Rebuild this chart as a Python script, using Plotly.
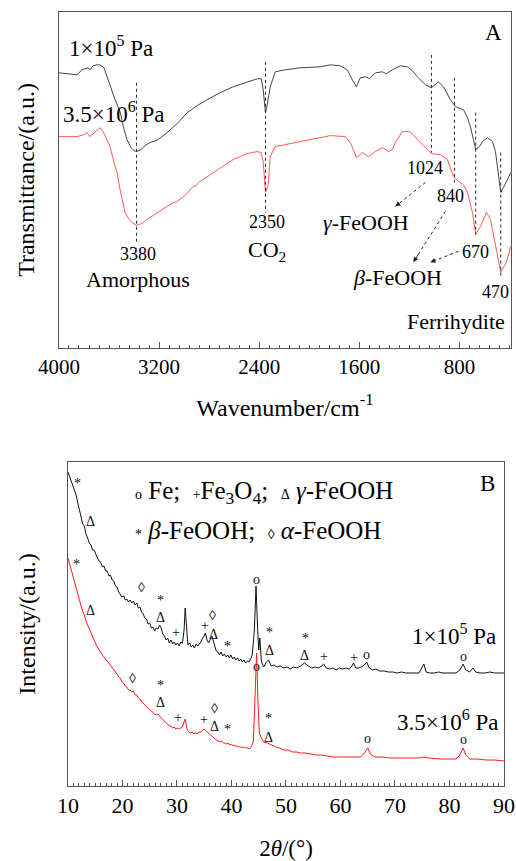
import plotly.graph_objects as go

# ---------------- FTIR data (panel A) ----------------
ftir_wn_black = [4000, 3912, 3856, 3816, 3784, 3768, 3752, 3728, 3696, 3672, 3640, 3616, 3592, 3552, 3512, 3480,
                 3456, 3424, 3400, 3380, 3344, 3312, 3272, 3208, 3136, 3056, 2976, 2896, 2816, 2712, 2608, 2496,
                 2416, 2384, 2368, 2350, 2336, 2312, 2272, 2192, 2072, 1912, 1832, 1752, 1696, 1656, 1624, 1592,
                 1552, 1520, 1472, 1416, 1384, 1336, 1272, 1216, 1176, 1136, 1072, 1024, 968, 928, 872, 832,
                 768, 736, 712, 688, 670, 640, 616, 576, 536, 512, 496, 484, 470, 448, 424, 390]
ftir_t_black = [276, 275, 274, 279, 280, 281, 279, 283, 284, 284, 281, 272, 264, 249, 237, 219,
                209, 201, 198, 197, 199, 203, 206, 209, 216, 225, 236, 243, 249, 256, 262, 267,
                270, 270, 259, 236, 244, 262, 277, 279, 281, 282, 284, 283, 279, 269, 262, 271,
                272, 270, 276, 277, 275, 279, 283, 282, 278, 272, 264, 261, 267, 262, 249, 242,
                239, 231, 222, 209, 199, 202, 207, 211, 207, 197, 182, 168, 156, 161, 167, 176]

ftir_wn_red = [4000, 3856, 3800, 3776, 3752, 3712, 3672, 3648, 3616, 3592, 3560, 3536, 3512, 3496, 3472, 3440,
               3416, 3380, 3336, 3296, 3248, 3192, 3112, 3056, 2992, 2928, 2904, 2872, 2752, 2608, 2496, 2416,
               2384, 2368, 2350, 2328, 2312, 2272, 2072, 1912, 1832, 1712, 1672, 1648, 1624, 1576, 1528, 1472,
               1416, 1368, 1336, 1312, 1256, 1200, 1168, 1136, 1072, 1024, 952, 896, 848, 808, 768, 736,
               696, 670, 632, 584, 552, 512, 484, 470, 452, 424, 390]
ftir_t_red = [212, 212, 214, 216, 212, 217, 221, 217, 209, 202, 186, 176, 159, 149, 136, 129,
              126, 123, 125, 129, 133, 137, 144, 147, 153, 162, 163, 167, 177, 189, 195, 197,
              196, 187, 156, 164, 192, 202, 207, 211, 213, 212, 206, 199, 191, 196, 192, 197,
              201, 197, 199, 206, 217, 217, 214, 209, 201, 195, 194, 189, 172, 167, 164, 156,
              136, 114, 122, 136, 129, 102, 84, 76, 80, 86, 102]

ftir_peaks = [3380, 2350, 1024, 840, 670, 470]
ftir_peak_labels = ["3380", "2350", "1024", "840", "670", "470"]

# ---------------- XRD data (panel B) ----------------
xrd_2theta_black = [10.0, 10.3, 10.6, 10.9, 11.2, 11.5, 11.8, 12.1, 12.4, 12.7, 13.0, 13.3, 13.6, 13.9, 14.2,
                    14.5, 14.8, 15.1, 15.4, 15.7, 16.0, 16.3, 16.6, 16.9, 17.2, 17.5, 17.8, 18.1, 18.4, 18.7,
                    19.0, 19.3, 19.6, 19.9, 20.2, 20.5, 20.8, 21.1, 21.4, 21.7, 22.0, 22.3, 22.6, 22.9, 23.2,
                    23.5, 23.8, 24.1, 24.4, 24.7, 25.0, 25.3, 25.6, 25.9, 26.2, 26.5, 26.8, 27.1, 27.4, 27.7,
                    28.0, 28.3, 28.6, 28.9, 29.2, 29.5, 29.8, 30.1, 30.4, 30.7, 31.0, 31.3, 31.5, 31.7, 32.0,
                    32.3, 32.6, 32.9, 33.2, 33.5, 33.8, 34.1, 34.4, 34.7, 35.0, 35.2, 35.5, 35.8, 36.1, 36.4,
                    36.6, 36.9, 37.2, 37.5, 37.8, 38.1, 38.4, 38.7, 39.0, 39.3, 39.6, 39.9, 40.2, 40.5, 40.8,
                    41.1, 41.4, 41.7, 42.0, 42.3, 42.6, 42.9, 43.2, 43.5, 43.8, 44.2, 44.5, 44.8, 45.0, 45.2,
                    45.5, 45.9, 46.4, 46.8, 47.3, 47.8, 48.4, 49.0, 49.5, 50.2, 50.8, 51.4, 52.0, 52.7, 53.4,
                    54.1, 54.7, 55.3, 56.0, 56.5, 56.9, 57.4, 58.0, 58.6, 59.2, 59.8, 60.4, 61.0, 61.6, 62.0,
                    62.4, 62.8, 63.3, 63.8, 64.4, 64.8, 65.3, 65.9, 66.5, 67.2, 68.0, 68.8, 69.6, 70.4, 71.2,
                    72.0, 72.8, 73.6, 74.4, 74.9, 75.3, 75.7, 76.4, 77.2, 78.0, 78.8, 79.6, 80.4, 81.2, 81.9,
                    82.5, 83.0, 83.7, 84.3, 84.8, 85.6, 86.5, 87.4, 88.3, 89.2, 90.0]
xrd_int_black = [314, 309, 305, 299, 295, 291, 283, 276, 270, 262, 260, 252, 248, 243, 241,
                 236, 236, 231, 228, 225, 224, 219, 220, 215, 215, 210, 211, 206, 205, 200,
                 199, 194, 192, 189, 190, 186, 187, 184, 186, 183, 185, 181, 183, 178, 179,
                 174, 172, 168, 167, 162, 163, 158, 159, 155, 158, 157, 161, 158, 152, 150,
                 146, 148, 143, 146, 142, 144, 141, 143, 140, 144, 143, 156, 178, 158, 141,
                 143, 139, 141, 138, 142, 140, 142, 144, 148, 150, 153, 146, 143, 147, 150,
                 146, 140, 135, 134, 131, 134, 130, 132, 129, 131, 128, 131, 127, 129, 126,
                 128, 125, 127, 124, 126, 123, 125, 124, 127, 131, 156, 200, 156, 136, 148,
                 124, 119, 124, 126, 120, 121, 119, 120, 118, 119, 117, 119, 118, 120, 123,
                 120, 118, 119, 118, 120, 122, 118, 117, 118, 116, 118, 117, 118, 117, 119,
                 123, 118, 118, 119, 121, 124, 118, 116, 117, 115, 115, 114, 114, 113, 114,
                 113, 113, 113, 113, 118, 122, 114, 113, 113, 114, 113, 113, 113, 113, 116,
                 122, 116, 114, 118, 114, 113, 113, 114, 113, 113, 113]

xrd_2theta_red = [10.0, 10.3, 10.6, 10.9, 11.2, 11.5, 11.8, 12.1, 12.4, 12.7, 13.0, 13.3, 13.6, 13.9, 14.2,
                  14.5, 14.8, 15.1, 15.4, 15.7, 16.0, 16.3, 16.6, 16.9, 17.2, 17.5, 17.8, 18.1, 18.4, 18.7,
                  19.0, 19.3, 19.6, 19.9, 20.2, 20.5, 20.8, 21.1, 21.4, 21.7, 22.0, 22.3, 22.6, 22.9, 23.2,
                  23.5, 23.8, 24.1, 24.4, 24.7, 25.0, 25.3, 25.6, 25.9, 26.2, 26.5, 26.8, 27.1, 27.4, 27.7,
                  28.0, 28.3, 28.6, 28.9, 29.2, 29.5, 29.8, 30.1, 30.4, 30.7, 31.0, 31.3, 31.5, 31.7, 31.9,
                  32.2, 32.5, 32.8, 33.1, 33.4, 33.7, 34.0, 34.3, 34.6, 34.9, 35.2, 35.5, 35.8, 36.1, 36.4,
                  36.7, 37.0, 37.3, 37.6, 37.9, 38.2, 38.5, 38.8, 39.1, 39.4, 39.7, 40.0, 40.3, 40.6, 40.9,
                  41.2, 41.5, 41.8, 42.1, 42.4, 42.7, 43.0, 43.3, 43.6, 44.0, 44.3, 44.6, 44.85, 45.1, 45.5,
                  45.9, 46.6, 47.3, 48.1, 48.8, 49.5, 50.3, 51.2, 52.0, 52.7, 53.6, 54.5, 55.4, 56.5, 57.6,
                  58.7, 59.8, 60.9, 61.9, 62.8, 63.7, 64.4, 65.0, 65.5, 66.3, 67.5, 69.2, 71.0, 72.9, 74.5,
                  75.3, 76.2, 78.4, 80.0, 81.2, 81.9, 82.5, 83.0, 83.7, 85.0, 86.7, 88.3, 90.0]
xrd_int_red = [228, 222, 215, 209, 202, 198, 191, 186, 180, 175, 171, 165, 161, 157, 152,
               150, 145, 142, 139, 136, 134, 131, 129, 127, 124, 123, 120, 119, 116, 114,
               112, 109, 108, 104, 103, 100, 99, 96, 96, 94, 95, 91, 91, 88, 87,
               84, 83, 81, 79, 78, 76, 75, 73, 72, 71, 72, 70, 68, 66, 64,
               63, 62, 60, 60, 58, 59, 57, 58, 57, 58, 59, 64, 67, 61, 56,
               54, 53, 54, 52, 53, 52, 54, 54, 55, 57, 56, 54, 53, 51, 50,
               48, 47, 46, 45, 44, 45, 43, 43, 42, 43, 41, 42, 40, 41, 39,
               40, 39, 39, 38, 39, 38, 38, 37, 39, 44, 86, 133, 86, 53, 48,
               44, 43, 41, 39, 38, 36, 36, 34, 34, 33, 33, 32, 31, 31, 30,
               29, 29, 29, 29, 29, 29, 33, 38, 32, 29, 29, 28, 28, 28, 28,
               29, 28, 27, 27, 27, 31, 38, 31, 27, 27, 26, 26, 25]

# phase marks: symbol, 2theta, intensity level of label
marks_black_sym = ["*", "Δ", "◊", "*", "Δ", "+", "+", "◊", "Δ", "*", "o", "*", "Δ", "*", "Δ", "+", "+", "o", "o"]
marks_black_x = [11.8, 14.2, 23.4, 26.9, 26.9, 29.9, 35.2, 36.5, 36.7, 39.2, 44.6, 46.9, 46.9, 53.6, 53.4, 56.9, 62.4, 64.8, 82.5]
marks_black_y = [301, 266, 199, 184, 170, 154, 161, 171, 153, 138, 207, 152, 137, 146, 132, 130, 129, 132, 130]
marks_red_sym = ["*", "Δ", "◊", "*", "Δ", "+", "+", "◊", "Δ", "*", "o", "*", "Δ", "o", "o"]
marks_red_x = [11.5, 14.2, 21.8, 26.9, 26.9, 30.2, 35.0, 36.9, 36.9, 39.2, 44.6, 46.8, 46.8, 65.0, 82.5]
marks_red_y = [220, 177, 108, 99, 85, 69, 67, 78, 61, 55, 120, 66, 50, 48, 47]

FONT = "Liberation Serif"
fig = go.Figure()

fig.add_trace(go.Scatter(x=ftir_wn_black, y=ftir_t_black, mode="lines", line=dict(color="#444444", width=1),
                         xaxis="x", yaxis="y", showlegend=False, hoverinfo="skip"))
fig.add_trace(go.Scatter(x=ftir_wn_red, y=ftir_t_red, mode="lines", line=dict(color="#ff5a5a", width=1),
                         xaxis="x", yaxis="y", showlegend=False, hoverinfo="skip"))
fig.add_trace(go.Scatter(x=xrd_2theta_black, y=xrd_int_black, mode="lines", line=dict(color="#111111", width=1),
                         xaxis="x2", yaxis="y2", showlegend=False, hoverinfo="skip"))
fig.add_trace(go.Scatter(x=xrd_2theta_red, y=xrd_int_red, mode="lines", line=dict(color="#ff1a1a", width=1),
                         xaxis="x2", yaxis="y2", showlegend=False, hoverinfo="skip"))

shapes = []
ann = []

# dotted guide lines at FTIR peaks (top, bottom in transmittance units)
guide_top = [266, 287, 294, 271, 236, 196]
guide_bot = [106, 136, 196, 166, 114, 70]
for wn, t0, t1 in zip(ftir_peaks, guide_top, guide_bot):
    shapes.append(dict(type="line", xref="x", yref="y", x0=wn, x1=wn, y0=t0, y1=t1,
                       line=dict(color="#222222", width=1, dash="dot")))

# dotted arrows
arrows = [(1072, 166, 1312, 142), (912, 137, 1168, 86), (808, 97, 1032, 86)]
for x0, y0, x1, y1 in arrows:
    shapes.append(dict(type="line", xref="x", yref="y", x0=x0, y0=y0, x1=x1, y1=y1,
                       line=dict(color="#222222", width=1, dash="dot")))
    ann.append(dict(xref="x", yref="y", axref="x", ayref="y", x=x1, y=y1,
                    ax=x1 + (x0 - x1) * 0.18, ay=y1 + (y0 - y1) * 0.18, text="", showarrow=True,
                    arrowhead=2, arrowsize=1, arrowwidth=1, arrowcolor="#222222"))

def t(x, y, text, size, xa="center", xref="x", yref="y"):
    ann.append(dict(x=x, y=y, xref=xref, yref=yref, text=text, showarrow=False, xanchor=xa,
                    yanchor="middle", font=dict(family=FONT, size=size, color="black")))

# panel A texts
t(3936, 302, "1×10<sup>5</sup> Pa", 23, "left")
t(3984, 236, "3.5×10<sup>6</sup> Pa", 23, "left")
t(528, 316, "A", 23)
t(3368, 94, "3380", 18)
t(3368, 69, "Amorphous", 22)
t(2336, 126, "2350", 18)
t(2336, 97, "CO<sub>2</sub>", 22)
t(1072, 181, "1024", 18)
t(1544, 126, "<i>γ</i>-FeOOH", 22)
t(872, 152, "840", 18)
t(672, 96, "670", 18)
t(1296, 71, "<i>β</i>-FeOOH", 22)
t(512, 56, "470", 18)
t(416, 27, "Ferrihydite", 22, "right")

# panel B marks
mark_shift = {"*": 1.5, "Δ": -1.5}
def mark(s, x, y):
    ann.append(dict(x=x, y=y + mark_shift.get(s, 0), xref="x2", yref="y2", text=s, showarrow=False,
                    font=dict(family=FONT, size=14, color="#111111")))

for s, x, y in zip(marks_black_sym, marks_black_x, marks_black_y):
    mark(s, x, y)
for s, x, y in zip(marks_red_sym, marks_red_x, marks_red_y):
    mark(s, x, y)

sm = "<span style='font-size:14px'>%s</span>"
t(21.9, 294, (sm % "o") + " Fe;&nbsp;&nbsp;" + (sm % "+") + "Fe<sub>3</sub>O<sub>4</sub>;&nbsp;&nbsp;" + (sm % "Δ") + " <i>γ</i>-FeOOH",
  25, "left", "x2", "y2")
t(21.9, 256, (sm % "*") + " <i>β</i>-FeOOH;&nbsp;&nbsp;" + (sm % "◊") + " <i>α</i>-FeOOH", 25, "left", "x2", "y2")
t(88.9, 152, "1×10<sup>5</sup> Pa", 23, "right", "x2", "y2")
t(89.4, 66, "3.5×10<sup>6</sup> Pa", 23, "right", "x2", "y2")
t(86.9, 303, "B", 23, "center", "x2", "y2")

axis_common = dict(showgrid=False, zeroline=False, showline=True, mirror=True, linecolor="#555555", linewidth=1,
                   automargin=False)

fig.update_layout(
    width=516, height=861, margin=dict(l=0, r=0, t=0, b=0, autoexpand=False),
    paper_bgcolor="white", plot_bgcolor="white",
    font=dict(family=FONT, color="black"),
    xaxis=dict(domain=[0.1143, 0.9903], anchor="y", range=[4000, 388], tickmode="linear", tick0=0, dtick=800,
               ticks="inside", ticklen=6, tickcolor="#555555", tickfont=dict(size=21),
               minor=dict(ticks="inside", ticklen=3, tickcolor="#555555", tick0=0, dtick=80),
               title=dict(text="Wavenumber/cm<sup>-1</sup>", font=dict(size=24), standoff=20), **axis_common),
    yaxis=dict(domain=[0.5958, 0.9861], anchor="x", range=[0, 337], showticklabels=False, ticks="",
               title=dict(text="Transmittance/(a.u.)", font=dict(size=24), standoff=16), **axis_common),
    xaxis2=dict(domain=[0.1318, 0.9767], anchor="y2", range=[10, 90], tickmode="linear", tick0=0, dtick=10,
                ticks="inside", ticklen=6, tickcolor="#555555", tickfont=dict(size=22),
                minor=dict(ticks="inside", ticklen=3, tickcolor="#555555", tick0=0, dtick=1),
                title=dict(text="2<i>θ</i>/(°)", font=dict(size=23), standoff=23), **axis_common),
    yaxis2=dict(domain=[0.0871, 0.4634], anchor="x2", range=[0, 324], showticklabels=False, ticks="",
                title=dict(text="Intensity/(a.u.)", font=dict(size=24), standoff=24), **axis_common),
    shapes=shapes, annotations=ann,
)

fig.write_html("out.html", config={"displayModeBar": False},
               post_script="document.body.style.margin='0';document.body.style.padding='0';")
